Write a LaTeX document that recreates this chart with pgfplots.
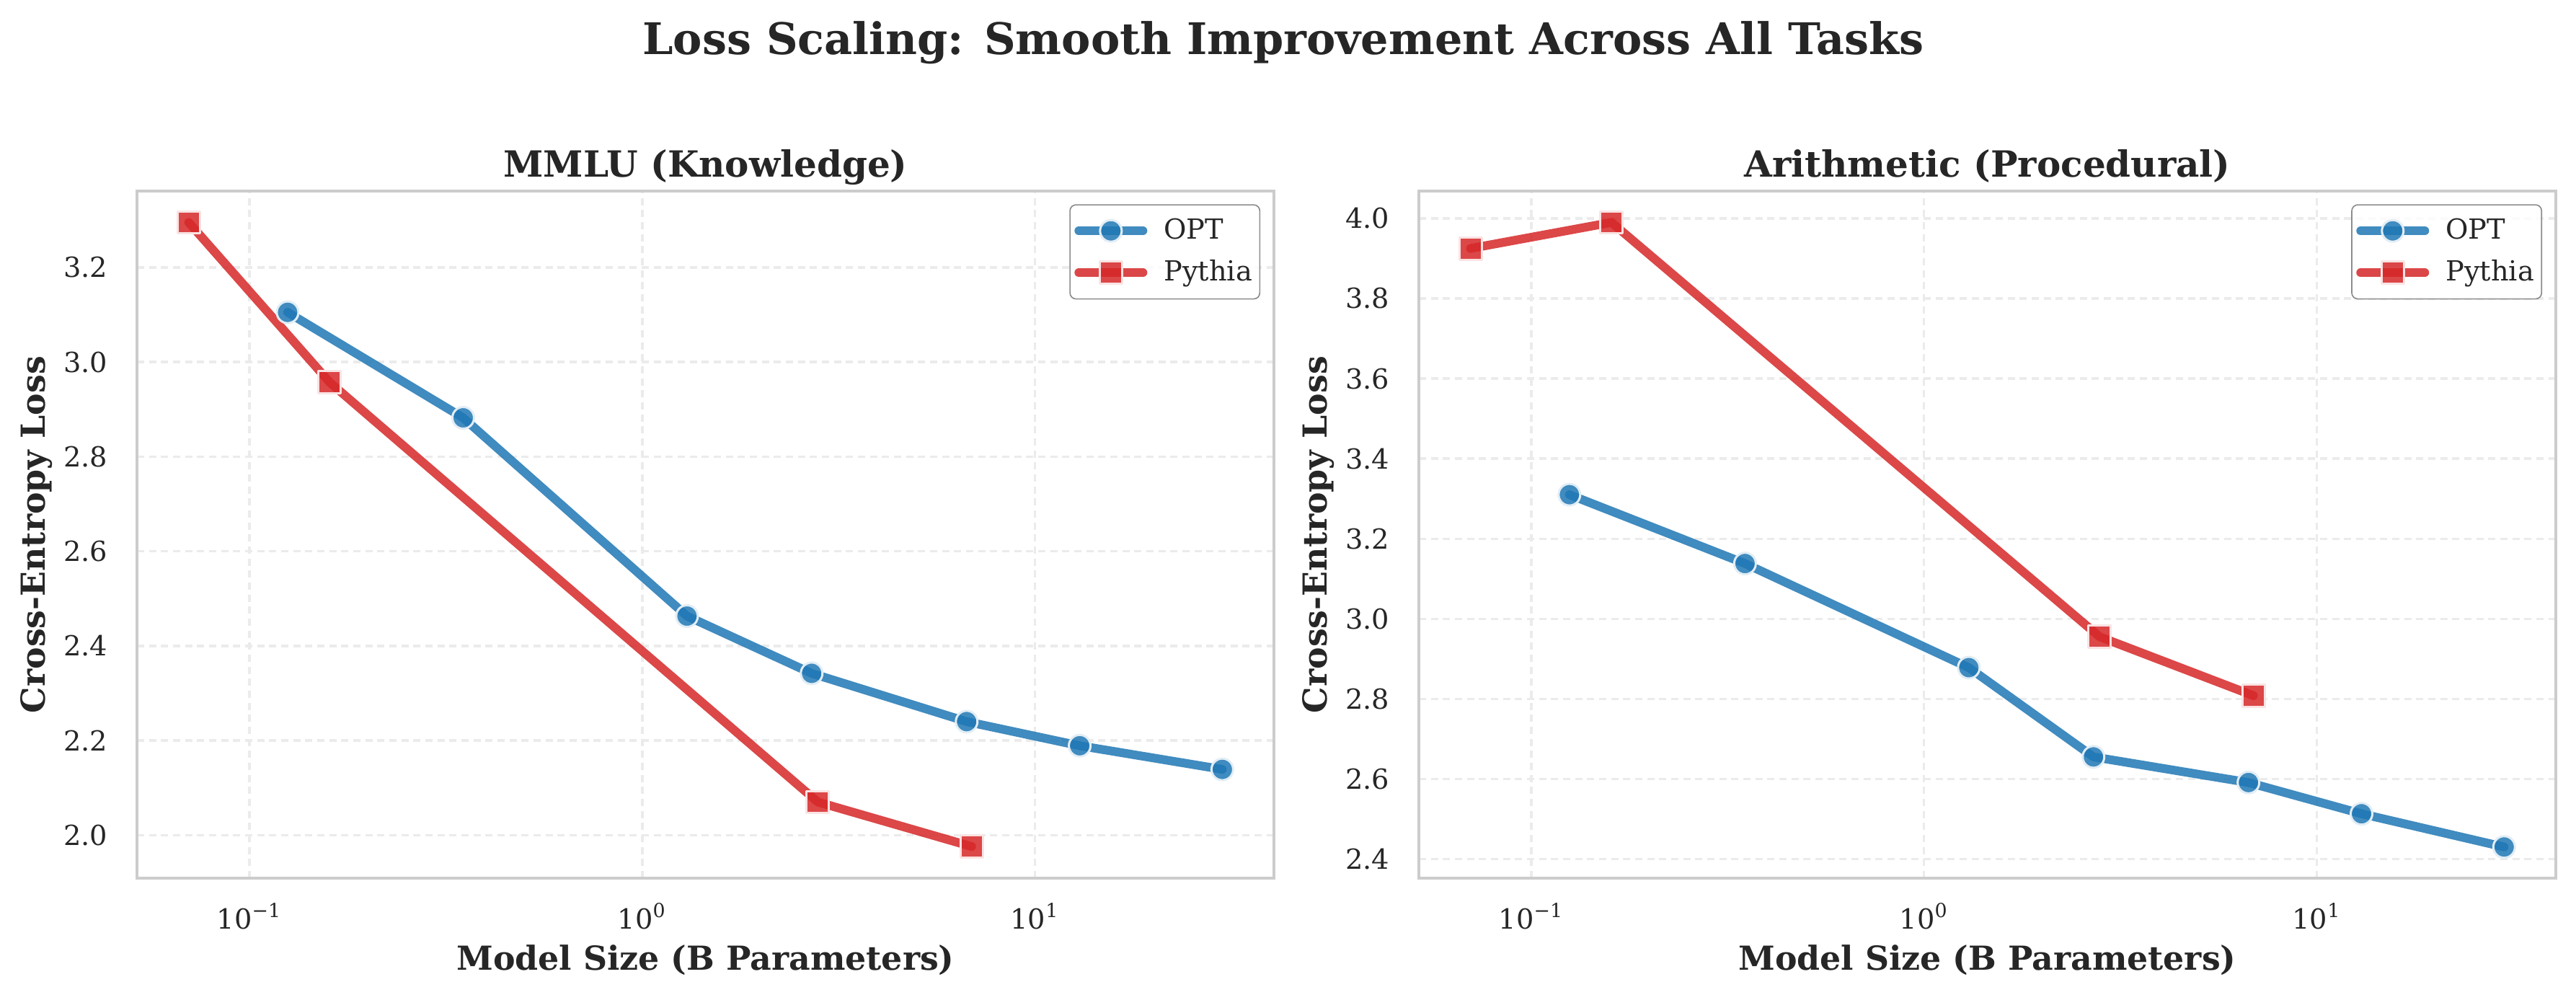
\documentclass[border=0pt]{standalone}
\usepackage{fontspec}
\setmainfont{DejaVu Serif}
\usepackage{pgfplots}
\pgfplotsset{compat=1.18}
\definecolor{optblue}{HTML}{1F77B4}
\definecolor{pyred}{HTML}{D62728}
\definecolor{spine}{HTML}{CCCCCC}
\definecolor{gridc}{HTML}{EBEBEB}
\definecolor{txt}{HTML}{262626}

\pgfplotsset{
  legend image code/.code={
    \draw[#1, mark repeat=2, mark phase=2] plot coordinates {(0cm,0cm) (0.375cm,0cm) (0.75cm,0cm)};
  },
  every axis title/.style={at={([yshift=4.8pt]axis description cs:0.5,1)}, anchor=base, text=txt,
      font=\bfseries\fontsize{12}{14}\selectfont},
  every axis/.append style={
    scale only axis, width=378.5pt, height=228.7pt,
    xmin=0.05168, xmax=40.62,
    xtick={0.1,1,10},
    xticklabels={10\textsuperscript{−1},10\textsuperscript{0},10\textsuperscript{1}},
    xminorticks=false, yminorticks=false,
    major tick length=0pt, minor tick length=0pt,
    grid=major,
    major grid style={gridc, line width=0.8pt, dash pattern=on 2.4pt off 1.6pt},
    axis line style={spine, line width=1.04pt},
    tick label style={text=txt, font=\fontsize{9.2}{11}\selectfont},
    xticklabel style={anchor=north, inner sep=0pt, yshift=-8pt},
    yticklabel style={anchor=east, inner sep=0pt, xshift=-9.6pt,
      /pgf/number format/.cd, fixed, fixed zerofill, precision=1, assume math mode=true},
    xlabel style={at={([yshift=-30.5pt]axis description cs:0.5,0)}, anchor=base, text=txt,
      font=\bfseries\fontsize{11}{13}\selectfont},
    ylabel style={at={([xshift=-30.7pt]axis description cs:0,0.5)}, anchor=base, text=txt,
      font=\bfseries\fontsize{11}{13}\selectfont},
    legend style={at={(axis description cs:0.988,0.981)}, anchor=north east,
      draw=black!45, rounded corners=2pt, fill=white, fill opacity=0.8, text opacity=1,
      font=\fontsize{9.2}{11}\selectfont, text=txt,
      inner xsep=1.5pt, inner ysep=2.5pt, row sep=1.5pt, column sep=4.5pt,
      nodes={inner xsep=1pt}},
    legend cell align=left,
  },
  optstyle/.style={optblue, draw opacity=0.85, line width=2.9pt, line join=round, line cap=round,
    mark=*, mark size=3.6pt,
    mark options={solid, fill=optblue, fill opacity=0.85, draw=optblue!13, draw opacity=1, line width=0.72pt}},
  pystyle/.style={pyred, draw opacity=0.85, line width=2.9pt, line join=round, line cap=round,
    mark=square*, mark size=3.7pt,
    mark options={solid, fill=pyred, fill opacity=0.85, draw=pyred!13, draw opacity=1, line width=0.72pt}},
}

\begin{document}
\begin{tikzpicture}
\path[use as bounding box] (0,0) rectangle (857.52pt,332.64pt);

\begin{semilogxaxis}[at={(45.6pt,40.3pt)}, anchor=south west,
  ymin=1.909, ymax=3.361,
  ytick={2.0,2.2,2.4,2.6,2.8,3.0,3.2},
  xlabel={Model Size (B Parameters)},
  ylabel={Cross-Entropy Loss},
  title={MMLU (Knowledge)}]
\addplot[optstyle] coordinates {(0.125,3.105) (0.35,2.882) (1.3,2.463) (2.7,2.342) (6.7,2.240) (13,2.189) (30,2.139)};
\addlegendentry{OPT}
\addplot[pystyle] coordinates {(0.07,3.295) (0.16,2.957) (2.8,2.070) (6.9,1.976)};
\addlegendentry{Pythia}
\end{semilogxaxis}

\begin{semilogxaxis}[at={(472.3pt,40.3pt)}, anchor=south west,
  ymin=2.352, ymax=4.068,
  ytick={2.4,2.6,2.8,3.0,3.2,3.4,3.6,3.8,4.0},
  xlabel={Model Size (B Parameters)},
  ylabel={Cross-Entropy Loss},
  title={Arithmetic (Procedural)}]
\addplot[optstyle] coordinates {(0.125,3.310) (0.35,3.138) (1.3,2.878) (2.7,2.655) (6.7,2.591) (13,2.513) (30,2.430)};
\addlegendentry{OPT}
\addplot[pystyle] coordinates {(0.07,3.925) (0.16,3.990) (2.8,2.955) (6.9,2.808)};
\addlegendentry{Pythia}
\end{semilogxaxis}

\node[anchor=base, text=txt, font=\bfseries\fontsize{14.5}{17}\selectfont] at (427.2pt,314.6pt)
  {Loss Scaling: Smooth Improvement Across All Tasks};
\end{tikzpicture}
\end{document}
